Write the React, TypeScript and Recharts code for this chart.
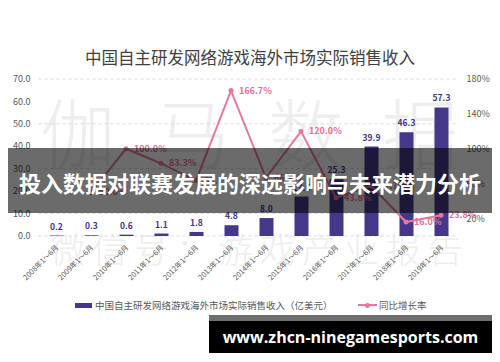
import React from 'react';
import { ComposedChart, Bar, Line, XAxis, YAxis, CartesianGrid, LabelList } from 'recharts';

const categories = ['2008年1～6月', '2009年1～6月', '2010年1～6月', '2011年1～6月', '2012年1～6月', '2013年1～6月', '2014年1～6月', '2015年1～6月', '2016年1～6月', '2017年1～6月', '2018年1～6月', '2019年1～6月'];
const revenue = [0.2, 0.3, 0.6, 1.1, 1.8, 4.8, 8.0, 17.6, 25.3, 39.9, 46.3, 57.3];
const growth: (number | null)[] = [null, 50.0, 100.0, 83.3, 63.6, 166.7, 66.7, 120.0, 43.8, 57.7, 16.0, 23.8];
const leftTicks = [0, 10, 20, 30, 40, 50, 60, 70];
const rightTicks = [0, 20, 40, 60, 80, 100, 120, 140, 160, 180];
const title = '中国自主研发网络游戏海外市场实际销售收入';
const barName = '中国自主研发网络游戏海外市场实际销售收入（亿美元）';
const lineName = '同比增长率';
const bannerText = '投入数据对联赛发展的深远影响与未来潜力分析';
const urlText = 'www.zhcn-ninegamesports.com';
const watermark1 = '伽马数据';
const watermark2 = '微信号：游戏产业报告';

const data = categories.map((c, i) => ({ cat: c, revenue: revenue[i], growth: growth[i] }));

const BAR_COLOR = '#45378a';
const LINE_COLOR = '#e4789f';
const FONT = '"Noto Sans CJK SC", "Noto Sans", sans-serif';

const XTick = (props: any) => {
  const { x, y, payload } = props;
  const tx = x + 3;
  const ty = y + 4;
  return (
    <text x={tx} y={ty} transform={`rotate(-45, ${tx}, ${ty})`} textAnchor="end" fontSize={7.3} fill="#595959" fontFamily={FONT}>
      {payload.value}
    </text>
  );
};

const LineLabel = (props: any) => {
  const { x, y, value } = props;
  if (value === null || value === undefined) return null;
  return (
    <text x={x + 8} y={y + 3} fontSize={9} fontWeight="bold" fill="#e0719b" fontFamily={FONT}>
      {Number(value).toFixed(1)}%
    </text>
  );
};

export default function App() {
  return (
    <div style={{ position: 'absolute', left: 0, top: 0, width: 500, height: 362, background: '#fff', overflow: 'hidden', fontFamily: FONT }}>
      <div style={{ position: 'absolute', left: 40, top: 80, width: 460, fontSize: 76, lineHeight: '100px', color: '#eeeeee', fontWeight: 300, letterSpacing: 38, whiteSpace: 'nowrap' }}>{watermark1}</div>
      <div style={{ position: 'absolute', left: 50, top: 224, width: 450, fontSize: 35, lineHeight: '48px', color: '#eeeeee', fontWeight: 300, letterSpacing: 7, whiteSpace: 'nowrap' }}>{watermark2}</div>
      <div style={{ position: 'absolute', left: 0, top: 44, width: 500, textAlign: 'center', fontSize: 16.5, lineHeight: '26px', color: '#404040' }}>{title}</div>
      <div style={{ position: 'absolute', left: 0, top: 0 }}>
        <ComposedChart width={500} height={362} data={data} margin={{ top: 79, right: 0, bottom: 0, left: 0 }}>
          <CartesianGrid vertical={false} stroke="#d9d9d9" strokeDasharray="3 3" yAxisId="left" />
          <XAxis dataKey="cat" height={126} axisLine={false} tickLine={false} interval={0} tick={<XTick />} />
          <YAxis yAxisId="left" width={38.5} domain={[0, 70]} ticks={leftTicks} axisLine={false} tickLine={false} tickFormatter={(v: number) => v.toFixed(1)} tick={{ fontSize: 9, fill: '#595959', fontFamily: FONT }} />
          <YAxis yAxisId="right" orientation="right" width={41.5} domain={[0, 180]} ticks={rightTicks} axisLine={false} tickLine={false} tickFormatter={(v: number) => `${v}%`} tick={{ fontSize: 9, fill: '#595959', fontFamily: FONT, textAnchor: 'start' }} />
          <Bar yAxisId="left" dataKey="revenue" fill={BAR_COLOR} barSize={14} isAnimationActive={false}>
            <LabelList dataKey="revenue" position="top" offset={6} formatter={(v: any) => Number(v).toFixed(1)} style={{ fontSize: 8.5, fontWeight: 'bold', fill: '#3f3580', fontFamily: FONT }} />
          </Bar>
          <Line yAxisId="right" dataKey="growth" stroke={LINE_COLOR} strokeWidth={2} dot={{ r: 2.5, fill: LINE_COLOR, stroke: LINE_COLOR, strokeWidth: 0 }} isAnimationActive={false}>
            <LabelList dataKey="growth" content={<LineLabel />} />
          </Line>
        </ComposedChart>
      </div>
      <div style={{ position: 'absolute', left: 75, top: 302.5, width: 17, height: 5, background: BAR_COLOR }} />
      <div style={{ position: 'absolute', left: 95, top: 298, fontSize: 9.5, lineHeight: '14px', color: '#595959', whiteSpace: 'nowrap' }}>{barName}</div>
      <div style={{ position: 'absolute', left: 358, top: 304, width: 19, height: 2, background: LINE_COLOR }} />
      <div style={{ position: 'absolute', left: 365, top: 302.5, width: 5, height: 5, borderRadius: 3, background: LINE_COLOR }} />
      <div style={{ position: 'absolute', left: 379, top: 298, fontSize: 9.5, lineHeight: '14px', color: '#595959', whiteSpace: 'nowrap' }}>{lineName}</div>
      <div style={{ position: 'absolute', left: 8, top: 148, width: 484, height: 65, background: 'rgba(0,0,0,0.58)' }} />
      <div style={{ position: 'absolute', left: 0, top: 150, width: 500, height: 65, lineHeight: '65px', textAlign: 'center', fontSize: 22, fontWeight: 'bold', color: '#fff', whiteSpace: 'nowrap' }}>{bannerText}</div>
      <div style={{ position: 'absolute', left: 209, top: 315, width: 283, height: 6, background: '#6e6e6e' }} />
      <div style={{ position: 'absolute', left: 209, top: 321, width: 283, height: 32, background: '#000', color: '#fff', textAlign: 'center', lineHeight: '32px', fontSize: 16, fontWeight: 'bold', fontFamily: '"Open Sans", sans-serif', whiteSpace: 'nowrap' }}>{urlText}</div>
    </div>
  );
}
